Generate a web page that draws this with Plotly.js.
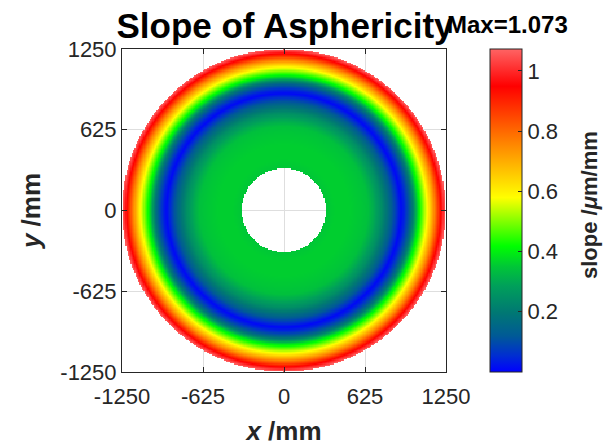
<!DOCTYPE html>
<html>
<head>
<meta charset="utf-8">
<script src="https://cdn.plot.ly/plotly-3.0.1.min.js"></script>
<style>html,body{margin:0;padding:0;background:#fff;}#chart{width:606px;height:446px;}</style>
</head>
<body>
<div id="chart"></div>
<script>
// Radial profile of the asphericity slope
const radius_mm = [325, 400, 500, 600, 650, 700, 750, 800, 850, 880, 905, 930, 970, 1000, 1035, 1085, 1110, 1160, 1200, 1250];
const slope_um_per_mm = [0.35, 0.36, 0.36, 0.35, 0.34, 0.30, 0.25, 0.18, 0.10, 0.05, 0.01, 0.04, 0.12, 0.22, 0.38, 0.52, 0.59, 0.75, 0.90, 1.073];
const innerRadius = 325;
const outerRadius = 1250;
const maxSlope = 1.073;

const axisTicks = [-1250, -625, 0, 625, 1250];
const axisTickText = ['-1250', '-625', '0', '625', '1250'];
const cbTicks = [0.2, 0.4, 0.6, 0.8, 1];
const cbTickText = ['0.2', '0.4', '0.6', '0.8', '1'];

const colorPos = [0, 0.05, 0.112, 0.184, 0.267, 0.326, 0.39, 0.54, 0.745, 0.885, 1];
const colorVals = ['rgb(0,0,255)', 'rgb(0,45,210)', 'rgb(0,90,150)', 'rgb(0,120,115)', 'rgb(0,160,90)', 'rgb(0,198,55)', 'rgb(0,255,0)', 'rgb(255,255,0)', 'rgb(255,105,0)', 'rgb(255,0,0)', 'rgb(255,100,100)'];

// Grid built from the radial profile
const step = 10;
const xs = [], ys = [];
for (let v = -outerRadius; v <= outerRadius + 0.001; v += step) { xs.push(v); ys.push(v); }
function profileAt(r) {
  if (r < innerRadius || r > outerRadius) return null;
  for (let i = 0; i < radius_mm.length - 1; i++) {
    if (r <= radius_mm[i + 1]) {
      const t = (r - radius_mm[i]) / (radius_mm[i + 1] - radius_mm[i]);
      return slope_um_per_mm[i] + t * (slope_um_per_mm[i + 1] - slope_um_per_mm[i]);
    }
  }
  return slope_um_per_mm[slope_um_per_mm.length - 1];
}
const z = ys.map(y => xs.map(x => profileAt(Math.sqrt(x * x + y * y))));

const font = 'Liberation Sans, Arial, Helvetica, sans-serif';
const dark = '#262626';

const trace = {
  type: 'heatmap', x: xs, y: ys, z: z,
  zmin: 0, zmax: maxSlope,
  colorscale: colorPos.map((p, i) => [p, colorVals[i]]),
  hoverongaps: false,
  colorbar: {
    tickvals: cbTicks, ticktext: cbTickText,
    ticks: 'inside', ticklen: 4, tickcolor: dark,
    outlinecolor: dark, outlinewidth: 1,
    thickness: 32, thicknessmode: 'pixels',
    len: 1, lenmode: 'fraction', y: 0, yanchor: 'bottom',
    x: 490 / 606, xref: 'container', xanchor: 'left', xpad: 0, ypad: 0,
    tickfont: {family: font, size: 22, color: dark}
  }
};

const axisCommon = {
  range: [-1250, 1250], tickvals: axisTicks, ticktext: axisTickText,
  ticks: 'inside', ticklen: 5, tickcolor: dark,
  showline: true, linecolor: dark, linewidth: 1, mirror: 'ticks',
  showgrid: true, gridcolor: '#dedede', gridwidth: 1, zeroline: false,
  tickfont: {family: font, size: 22, color: dark}, automargin: false
};

const layout = {
  width: 606, height: 446,
  margin: {l: 122, r: 160, t: 49, b: 74},
  paper_bgcolor: '#fff', plot_bgcolor: '#fff',
  showlegend: false,
  title: {text: 'Slope of Asphericity', x: 285 / 606, xanchor: 'center', y: 1 - 26 / 446, yanchor: 'middle',
          font: {family: font, size: 35, weight: 'bold', color: '#000'}},
  xaxis: Object.assign({}, axisCommon, {
    ticklabelstandoff: 5,
    title: {text: '<i>x</i> /mm', font: {family: font, size: 26, weight: 'bold', color: dark}, standoff: 14}
  }),
  yaxis: Object.assign({}, axisCommon, {
    title: {text: '<i>y</i> /mm', font: {family: font, size: 26, weight: 'bold', color: dark}, standoff: 12}
  }),
  annotations: [{
    text: 'Max=1.073', xref: 'paper', yref: 'paper',
    x: (507 - 122) / 324, y: (372 - 24) / 323,
    xanchor: 'center', yanchor: 'middle', showarrow: false,
    font: {family: font, size: 24, weight: 'bold', color: '#000'}
  }, {
    text: 'slope /<i>μ</i>m/mm', xref: 'paper', yref: 'paper',
    x: (589 - 122) / 324, y: (372 - 205) / 323, textangle: -90,
    xanchor: 'center', yanchor: 'middle', showarrow: false,
    font: {family: font, size: 22, weight: 'bold', color: dark}
  }]
};

Plotly.newPlot('chart', [trace], layout, {displayModeBar: false, staticPlot: true});
</script>
</body>
</html>
